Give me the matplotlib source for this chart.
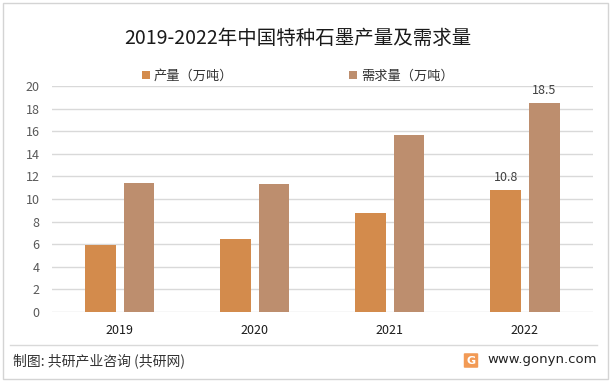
import matplotlib
matplotlib.use("Agg")
import matplotlib.pyplot as plt
from matplotlib.patches import Rectangle, FancyBboxPatch
import numpy as np

plt.rcParams['font.family'] = ['Noto Sans CJK SC', 'DejaVu Sans']

years = ["2019", "2020", "2021", "2022"]
production = [5.9, 6.5, 8.8, 10.8]
demand = [11.4, 11.3, 15.7, 18.5]
label_prod = "产量（万吨）"
label_dem = "需求量（万吨）"
title = "2019-2022年中国特种石墨产量及需求量"
yticks = [0, 2, 4, 6, 8, 10, 12, 14, 16, 18, 20]

c_prod = "#D38B4C"
c_dem = "#BD8E6E"

W, H = 611, 386
fig = plt.figure(figsize=(W / 100, H / 100), dpi=100)

# outer frame
fig.patches.append(Rectangle((3 / W, 1 - 379 / H), 605 / W, 376 / H,
                             transform=fig.transFigure, fill=False,
                             edgecolor="#d4d4d4", lw=1.0))

ax = fig.add_axes([52 / W, 1 - 312 / H, 540.5 / W, 226 / H])
ax.patch.set_alpha(0)
x = np.arange(len(years))
bw = 0.226
off = 0.143
ax.bar(x - off, production, bw, color=c_prod, label=label_prod, zorder=3)
ax.bar(x + off, demand, bw, color=c_dem, label=label_dem, zorder=3)

ax.text(x[-1] - off, production[-1] + 0.55, f"{production[-1]}", ha="center",
        va="bottom", fontsize=9, color="#404040")
ax.text(x[-1] + off, demand[-1] + 0.55, f"{demand[-1]}", ha="center",
        va="bottom", fontsize=9, color="#404040")

ax.set_xlim(-0.5, len(years) - 0.5)
ax.set_ylim(0, 20)
ax.set_yticks(yticks)
ax.set_xticks(x)
ax.set_xticklabels(years, fontsize=9, color="#1a1a1a")
ax.tick_params(axis="y", labelsize=9, labelcolor="#595959", length=0, pad=9)
ax.tick_params(axis="x", length=0, pad=9)
ax.grid(axis="y", color="#d9d9d9", lw=1.0, zorder=0)
for s in ax.spines.values():
    s.set_visible(False)

fig.text(298 / W, 1 - 38 / H, title, fontsize=14, ha="center", va="center",
         color="#1a1a1a")

ax.legend(loc="center left", bbox_to_anchor=(135 / W, 1 - 76 / H),
          bbox_transform=fig.transFigure, ncol=2, frameon=False, fontsize=9.5,
          handlelength=0.6, handleheight=0.6, handletextpad=0.3,
          columnspacing=8.8, borderpad=0, labelcolor="#333333")

# footer
fig.add_artist(plt.Line2D([10 / W, 597 / W], [1 - 345 / H, 1 - 345 / H],
                          transform=fig.transFigure, color="#d9d9d9", lw=1.0))
fig.text(13 / W, 1 - 361 / H, "制图: 共研产业咨询 (共研网)", fontsize=10,
         ha="left", va="center", color="#333333")
fig.text(597 / W, 1 - 360 / H, "www.gonyn.com", fontsize=9.5,
         ha="right", va="center", color="#222222", family="DejaVu Sans")
fig.patches.append(FancyBboxPatch((465 / W, 1 - 367 / H), 12 / W, 13 / H,
                                  boxstyle="round,pad=0.002",
                                  transform=fig.transFigure,
                                  facecolor="#F29A55", edgecolor="none"))
fig.text(471 / W, 1 - 360.5 / H, "G", fontsize=8, fontweight="bold",
         ha="center", va="center", color="white", family="DejaVu Sans")

fig.savefig("out.png", dpi=100)
